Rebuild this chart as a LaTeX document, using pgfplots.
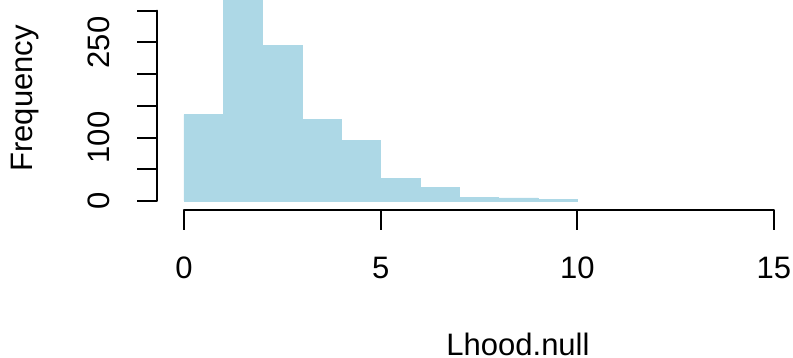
\documentclass[border=0pt]{standalone}
\usepackage{fontspec}
\setmainfont{Liberation Sans}
\usepackage{pgfplots}
\pgfplotsset{compat=1.18}
\definecolor{lightblue}{HTML}{ADD8E6}
\begin{document}
\fontsize{15.5}{18}\selectfont
\begin{tikzpicture}
\begin{axis}[
  anchor=origin, at={(0pt,0pt)},
  x=19.665pt, y=0.3172pt,
  xmin=-0.68, xmax=15.6, ymin=-13.5, ymax=340,
  clip=false,
  axis x line*=bottom, axis y line*=left,
  axis line style={draw=none},
  tick align=outside,
  major tick length=10pt,
  every tick/.style={black, line width=1pt},
  xtick={0,5,10,15},
  ytick={0,50,100,150,200,250,300},
  yticklabels={0,,100,,,250,},
  /pgf/number format/assume math mode=true,
  xticklabel style={font=\fontsize{15.5}{18}\selectfont, anchor=center, yshift=-19pt},
  yticklabel style={font=\fontsize{15.5}{18}\selectfont, anchor=center, xshift=-19.4pt, rotate=90},
]
\addplot[ybar interval, fill=lightblue, draw=lightblue, line width=0.3pt] coordinates {
  (0,136) (1,320) (2,245) (3,128) (4,96) (5,36) (6,21) (7,6) (8,5) (9,3) (10,3)
};
\draw[line width=1pt, line cap=round] (axis cs:0,-13.5) -- (axis cs:15,-13.5);
\draw[line width=1pt, line cap=round] (axis cs:-0.68,0) -- (axis cs:-0.68,300);
\end{axis}
\node[anchor=base, font=\fontsize{15.5}{18}\selectfont] at (167pt,-77.5pt) {Lhood.null};
\node[anchor=base, rotate=90, font=\fontsize{15.5}{18}\selectfont] at (-75.5pt,51.25pt) {Frequency};
\pgfresetboundingbox
\path[use as bounding box] (-92pt,-78.5pt) rectangle (304.5pt,100.5pt);
\end{tikzpicture}
\end{document}
